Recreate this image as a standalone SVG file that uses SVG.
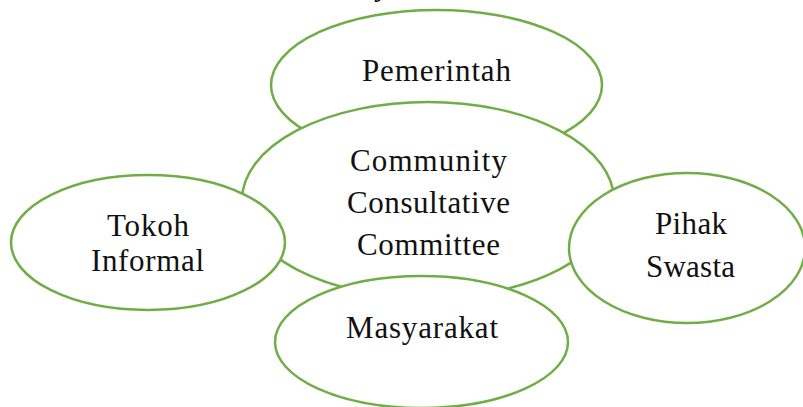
<svg xmlns="http://www.w3.org/2000/svg" width="803" height="407" viewBox="0 0 803 407">
  <style>
    .node { fill: #ffffff; stroke: #70AD47; stroke-width: 2.5; }
    .label { font-family: "Liberation Serif", "Times New Roman", serif; font-size: 31px; fill: #111111; text-anchor: middle; }
    .title { font-family: "Liberation Serif", "Times New Roman", serif; font-size: 26px; font-weight: bold; font-style: italic; fill: #000000; text-anchor: middle; }
  </style>
  <rect width="803" height="407" fill="#ffffff"/>
  <!-- heading above the figure, cut at the top edge -->
  <text class="title" x="383" y="-3">y</text>

  <g id="pemerintah">
    <ellipse class="node" cx="436.5" cy="85" rx="165.5" ry="75"/>
    <text class="label" x="436.5" y="81" textLength="149" lengthAdjust="spacing">Pemerintah</text>
  </g>

  <g id="community-consultative-committee">
    <ellipse class="node" cx="428" cy="200" rx="186" ry="98"/>
    <text class="label" x="428.5" y="171" textLength="157" lengthAdjust="spacing">Community</text>
    <text class="label" x="428.5" y="213" textLength="163" lengthAdjust="spacing">Consultative</text>
    <text class="label" x="428.5" y="255" textLength="143" lengthAdjust="spacing">Committee</text>
  </g>

  <g id="tokoh-informal">
    <ellipse class="node" cx="148" cy="242.5" rx="137" ry="67.5"/>
    <text class="label" x="148" y="236" textLength="82" lengthAdjust="spacing">Tokoh</text>
    <text class="label" x="147.5" y="271" textLength="113" lengthAdjust="spacing">Informal</text>
  </g>

  <g id="pihak-swasta">
    <ellipse class="node" cx="687" cy="248" rx="118" ry="75"/>
    <text class="label" x="691" y="234" textLength="72" lengthAdjust="spacing">Pihak</text>
    <text class="label" x="690.5" y="277" textLength="89" lengthAdjust="spacing">Swasta</text>
  </g>

  <g id="masyarakat">
    <ellipse class="node" cx="421.5" cy="342" rx="146.5" ry="66"/>
    <text class="label" x="422" y="338" textLength="152" lengthAdjust="spacing">Masyarakat</text>
  </g>
</svg>
